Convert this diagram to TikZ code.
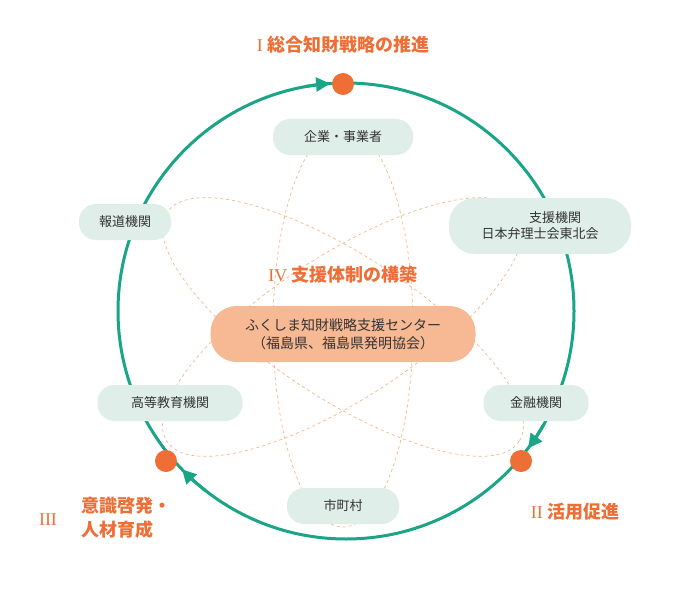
\documentclass[tikz,border=0pt]{standalone}
\usepackage{fontspec}
\setmainfont{Noto Sans CJK JP}
\newfontfamily\romfont{Liberation Serif}
\usetikzlibrary{arrows.meta,calc}
\definecolor{teal}{HTML}{1AA587}
\definecolor{orng}{HTML}{EE6E36}
\definecolor{nodeg}{HTML}{DFEEE8}
\definecolor{centf}{HTML}{F6B993}
\definecolor{dashc}{HTML}{F4B48C}
\definecolor{txt}{HTML}{333333}
\tikzset{
 org/.style={draw=none,fill=nodeg,rounded corners=17pt,minimum height=36pt,font=\fontsize{13}{16}\selectfont,text=txt,align=center,inner sep=0pt},
 ttl/.style={text=orng,font=\fontsize{18}{24}\selectfont\bfseries,align=left},
 dotc/.style={circle,fill=orng,minimum size=22pt,inner sep=0pt},
 ell/.style={draw=dashc,dashed,line width=0.7pt},
 ring/.style={draw=teal,line width=3pt},
 rtip/.style={-{Triangle[length=14pt,width=14pt]},draw=teal,line width=3pt}
}
\begin{document}
\begin{tikzpicture}[x=1pt,y=-1pt]
\useasboundingbox (0,0) rectangle (700,588);
\coordinate (C) at (346,311);
\draw[ring] (C) circle (228);
\node[dotc] (d1) at (343,84) {};
\node[dotc] (d2) at (521,461) {};
\node[dotc] (d3) at (166,461) {};
% arrowheads (clockwise)
\draw[rtip] ($(C)+(-100:228)$) arc (-100:-94:228);
\draw[rtip] ($(C)+(30:228)$) arc (30:37:228);
\draw[rtip] ($(C)+(128:228)$) arc (128:136:228);
% ellipses
\draw[ell] (343,327) ellipse [x radius=70, y radius=200];
\draw[ell,rotate around={33:(343,327)}] (343,327) ellipse [x radius=210, y radius=72];
\draw[ell,rotate around={-33:(343,327)}] (343,327) ellipse [x radius=210, y radius=72];
% nodes
\node[org,minimum width=140pt] (a) at (343,137) {企業・事業者};
\node[org,minimum width=92pt] (b) at (125,222) {報道機関};
\node[org,minimum width=182pt,minimum height=56pt,rounded corners=26pt] (c) at (540,226) {\hspace*{30pt}支援機関\\日本弁理士会東北会};
\node[org,minimum width=145pt] (e) at (170,403) {高等教育機関};
\node[org,minimum width=105pt] (f) at (536,403) {金融機関};
\node[org,minimum width=112pt] (g) at (343,506) {市町村};
\node[org,fill=centf,minimum width=265pt,minimum height=56pt,rounded corners=26pt,font=\fontsize{14}{18}\selectfont] (m) at (343,334) {ふくしま知財戦略支援センター\\（福島県、福島県発明協会）};
% titles
\node[ttl] (t1) at (343,45) {{\romfont\mdseries I} 総合知財戦略の推進};
\node[ttl] (t4) at (343,275) {{\romfont\mdseries IV} 支援体制の構築};
\node[ttl] (t2) at (575,512) {{\romfont\mdseries II} 活用促進};
\node[ttl,anchor=west] (t3a) at (78,518) {意識啓発・\\人材育成};
\node[ttl] (t3) at (48,520) {{\romfont\mdseries III}};
\end{tikzpicture}
\end{document}
